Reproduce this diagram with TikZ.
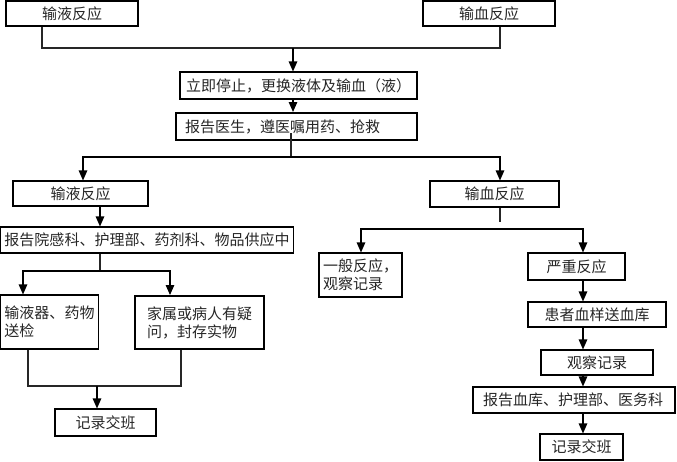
\documentclass[tikz,border=0pt]{standalone}
\usepackage{fontspec}
\newfontfamily\cjk{Noto Sans CJK SC}
\usetikzlibrary{arrows.meta}
\begin{document}
\begin{tikzpicture}[x=1pt,y=-1pt,
  box/.style={draw=black, line width=1.1pt, inner xsep=4pt, inner ysep=0pt,
    font=\cjk\fontsize{15}{18}\selectfont, text=black!85},
  thickbox/.style={box, line width=2pt},
  leftbox/.style={align=left},
  conn/.style={draw=black!85, line width=1.2pt},
  arr/.style={draw=black, line width=1.2pt, -{Triangle[length=10pt,width=8.5pt]}}]
\useasboundingbox (0,0) rectangle (677,461);
% boxes
\node[box, minimum width=132pt, minimum height=25pt] (top1) at (72,13.5) {输液反应};
\node[box, minimum width=132pt, minimum height=25pt] (top2) at (489,13.5) {输血反应};
\node[box, minimum width=237pt, minimum height=27pt] (stop) at (298.5,85.5) {立即停止，更换液体及输血（液）};
\node[thickbox, leftbox, inner xsep=9pt, text width=223pt, minimum width=241pt, minimum height=27pt] (report) at (296.5,126.5) {报告医生，遵医嘱用药、抢救};
\node[box, minimum width=135pt, minimum height=25pt] (L1) at (80.5,193.5) {输液反应};
\node[box, minimum width=290pt, minimum height=26pt] (L2) at (147,240) {报告院感科、护理部、药剂科、物品供应中};
\node[box, leftbox, minimum width=97pt, minimum height=54pt] (L3a) at (49.5,322) {输液器、药物\\送检};
\node[thickbox, leftbox, minimum width=129pt, minimum height=53pt] (L3b) at (199.5,322.5) {家属或病人有疑\\问，封存实物};
\node[box, minimum width=101pt, minimum height=27pt] (L4) at (105.5,422.5) {记录交班};
\node[box, minimum width=129pt, minimum height=26pt] (R1) at (494.5,194) {输血反应};
\node[box, leftbox, minimum width=83pt, minimum height=44pt] (R2a) at (360.5,275) {一般反应，\\观察记录};
\node[box, minimum width=97pt, minimum height=27pt] (R2b) at (576.5,266.5) {严重反应};
\node[box, minimum width=138pt, minimum height=25pt] (R3) at (597,314.5) {患者血样送血库};
\node[box, minimum width=112pt, minimum height=25pt] (R4) at (597,362.5) {观察记录};
\node[box, leftbox, inner xsep=10pt, text width=182pt, minimum width=202pt, minimum height=26pt] (R5) at (574,400) {报告血库、护理部、医务科};
\node[box, minimum width=83pt, minimum height=26pt] (R6) at (581.5,447) {记录交班};
% guide coordinates
\coordinate (gA) at (42,0);
\coordinate (gB) at (500,0);
\coordinate (gE) at (83,0);
\coordinate (gF) at (100,0);
\coordinate (gG) at (23,0);
\coordinate (gH) at (170,0);
\coordinate (gI) at (28,0);
\coordinate (gJ) at (181,0);
\coordinate (gL) at (361,0);
\coordinate (gM) at (583,0);
\coordinate (j1) at (293,48);
\coordinate (j2) at (291,157);
\coordinate (j3) at (100,271);
\coordinate (j4) at (97,386);
\coordinate (j5) at (500,229);
\coordinate (gap) at (500,222);
% connectors
\draw[conn] (top1.south -| gA) |- (j1);
\draw[conn] (top2.south -| gB) |- (j1);
\draw[arr] (j1) -- (stop.north -| j1);
\draw[arr] (stop.south -| j1) -- (report.north -| j1);
\draw[conn] ([yshift=8pt]report.south -| j2) -- (j2);
\draw[arr] (j2) -| (L1.north -| gE);
\draw[arr] (j2) -| (R1.north -| gB);
\draw[arr] (L1.south -| gF) -- (L2.north -| gF);
\draw[conn] (L2.south -| gF) -- (j3);
\draw[arr] (j3) -| (L3a.north -| gG);
\draw[arr] (j3) -| (L3b.north -| gH);
\draw[conn] (L3a.south -| gI) |- (j4);
\draw[conn] (L3b.south -| gJ) |- (j4);
\draw[arr] (j4) -- (L4.north -| j4);
\draw[conn] (R1.south -| gB) -- (gap);
\draw[arr] (j5) -| (R2a.north -| gL);
\draw[arr] (j5) -| (R2b.north -| gM);
\draw[arr] (R2b.south -| gM) -- (R3.north -| gM);
\draw[arr] (R3.south -| gM) -- (R4.north -| gM);
\draw[arr] (R4.south -| gM) -- (R5.north -| gM);
\draw[arr] (R5.south -| gM) -- (R6.north -| gM);
\end{tikzpicture}
\end{document}
